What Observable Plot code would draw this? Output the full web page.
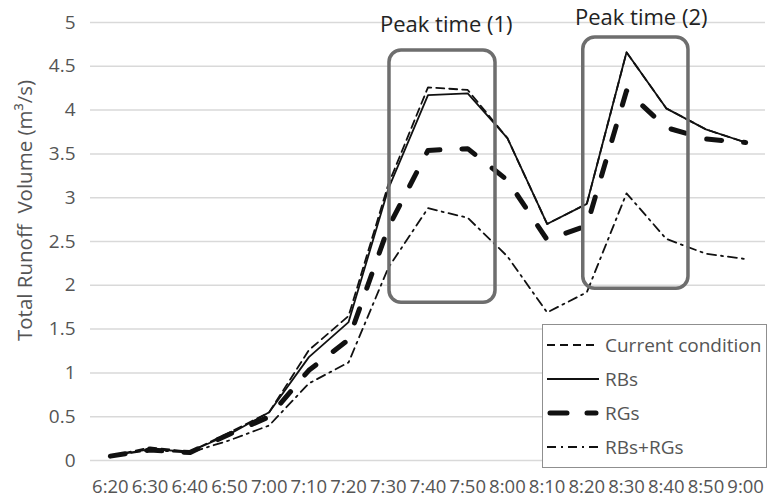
<!DOCTYPE html>
<html>
<head>
<meta charset="utf-8">
<script src="https://cdn.jsdelivr.net/npm/d3@7"></script>
<script src="https://cdn.jsdelivr.net/npm/@observablehq/plot@0.6"></script>
<style>
  html, body { margin: 0; padding: 0; background: #fff; }
  #wrap { position: relative; width: 768px; height: 498px; font-family: "Open Sans", sans-serif; }
  #legend { position: absolute; left: 542px; top: 324px; width: 225px; height: 144px; box-sizing: border-box;
            background: #fff; border: 1.5px solid #8f8f8f; padding-top: 3px; }
  .item { display: flex; align-items: center; height: 34px; color: #555; font-size: 19px; }
  .item svg { margin-left: 4px; margin-right: 6px; }
</style>
</head>
<body>
<div id="wrap"></div>
<script>
const times = ["6:20","6:30","6:40","6:50","7:00","7:10","7:20","7:30","7:40","7:50","8:00","8:10","8:20","8:30","8:40","8:50","9:00"];
const seriesNames = ["Current condition", "RBs", "RGs", "RBs+RGs"];
const current = [0.05,0.15,0.10,0.32,0.55,1.26,1.65,3.15,4.26,4.23,3.68,2.70,2.93,4.66,4.02,3.78,3.63];
const rbs     = [0.05,0.13,0.10,0.30,0.55,1.18,1.58,3.10,4.17,4.19,3.68,2.70,2.93,4.66,4.02,3.78,3.63];
const rgs     = [0.05,0.12,0.09,0.30,0.50,1.03,1.38,2.66,3.54,3.56,3.20,2.52,2.68,4.22,3.80,3.67,3.63];
const rbsRgs  = [0.05,0.12,0.09,0.23,0.40,0.88,1.12,2.20,2.88,2.77,2.33,1.69,1.92,3.05,2.53,2.36,2.30];
const yTicks = [0,0.5,1,1.5,2,2.5,3,3.5,4,4.5,5];
const yTitle = "Total Runoff\u00a0 Volume (m\u00b3/s)";
const peakLabels = ["Peak time (1)", "Peak time (2)"];
// annotation boxes (category index / value units)
const boxX1 = [7.03, 11.91];
const boxX2 = [9.70, 14.56];
const boxY1 = [1.80, 1.96];
const boxY2 = [4.68, 4.83];
const labelX = [8.46, 13.37];
const labelY = [4.97, 5.05];

const seriesValues = [current, rbs, rgs, rbsRgs];
const styles = [
  {stroke: "#111", strokeWidth: 1.8, strokeDasharray: "8,5"},
  {stroke: "#111", strokeWidth: 1.8},
  {stroke: "#111", strokeWidth: 5, strokeDasharray: "15,22", strokeLinecap: "round"},
  {stroke: "#111", strokeWidth: 1.8, strokeDasharray: "9,5,2,5"}
];
const rows = seriesNames.map((name, s) => seriesValues[s].map((v, i) => ({series: name, i, v})));
const boxes = boxX1.map((x1, k) => ({x1, x2: boxX2[k], y1: boxY1[k], y2: boxY2[k]}));
const labels = peakLabels.map((t, k) => ({t, x: labelX[k], y: labelY[k]}));

const chart = Plot.plot({
  width: 768, height: 498,
  marginLeft: 90, marginRight: 3, marginTop: 22, marginBottom: 38,
  style: {fontFamily: "Open Sans, sans-serif", fontSize: "18px", color: "#555", background: "white"},
  x: {domain: [-0.5, 16.5], axis: null},
  y: {domain: [0, 5], axis: null},
  marks: [
    Plot.gridY(yTicks, {stroke: "#d9d9d9", strokeOpacity: 1, strokeWidth: 1.5}),
    Plot.axisY(yTicks, {tickSize: 0, tickPadding: 15, tickFormat: d => String(d), label: null, fill: "#555", fontSize: 19}),
    Plot.axisX(d3.range(times.length), {tickSize: 0, tickPadding: 19, tickFormat: i => times[i], label: null, fill: "#555", fontSize: 18.5}),
    ...rows.map((r, s) => Plot.line(r, {x: "i", y: "v", ...styles[s]})),
    Plot.rect(boxes, {x1: "x1", x2: "x2", y1: "y1", y2: "y2", fill: "none", stroke: "#6e6e6e", strokeWidth: 3.5, rx: 12}),
    Plot.text(labels, {x: "x", y: "y", text: "t", fill: "#222", fontSize: 22}),
    Plot.text([yTitle], {frameAnchor: "left", textAnchor: "middle", dx: -65, dy: -31, rotate: -90, fill: "#555", fontSize: 20.5})
  ]
});
const wrap = document.getElementById("wrap");
wrap.appendChild(chart);

// legend
const legend = document.createElement("div");
legend.id = "legend";
seriesNames.forEach((name, s) => {
  const item = document.createElement("div");
  item.className = "item";
  const st = styles[s];
  item.innerHTML = `<svg width="52" height="12"><line x1="${st.strokeLinecap ? 3 : 0}" x2="${st.strokeLinecap ? 49 : 52}" y1="6" y2="6" stroke="${st.stroke}" stroke-width="${st.strokeWidth}" ${st.strokeDasharray ? `stroke-dasharray="${s === 2 ? '17,20' : st.strokeDasharray}"` : ""} ${st.strokeLinecap ? `stroke-linecap="round"` : ""}/></svg><span>${name}</span>`;
  legend.appendChild(item);
});
wrap.appendChild(legend);
</script>
</body>
</html>
